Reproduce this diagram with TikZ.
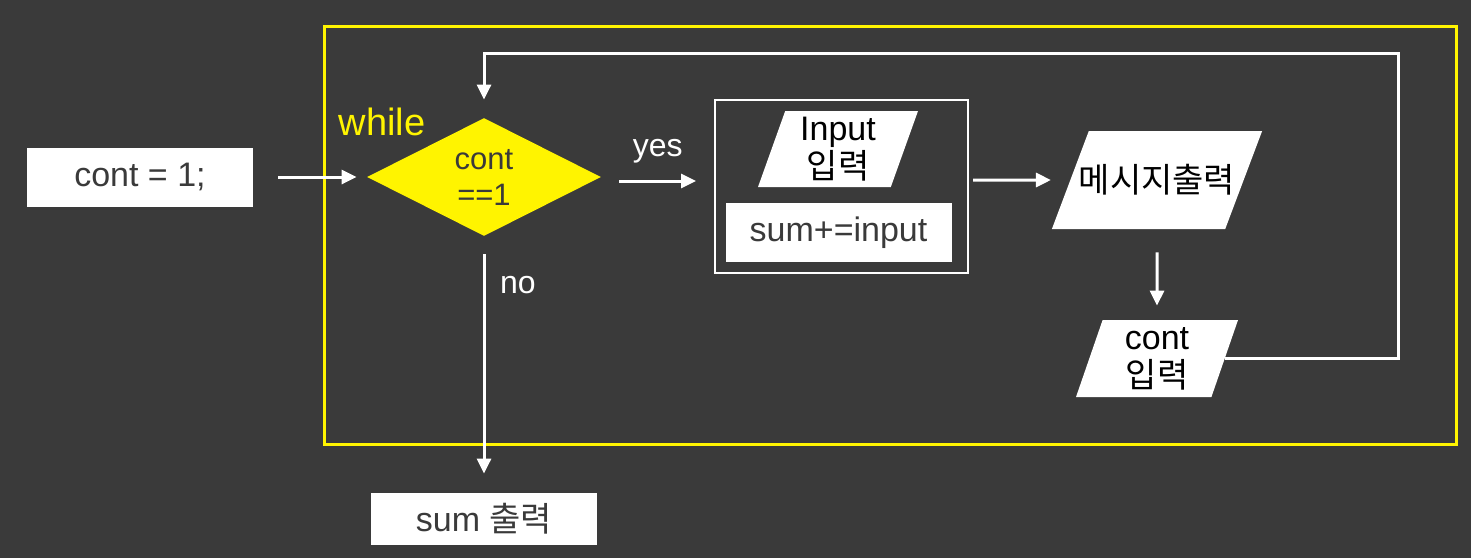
\documentclass[tikz,border=0pt]{standalone}
\usepackage{fontspec}
\setmainfont{Liberation Sans}
\newfontfamily\kr{Noto Sans CJK KR}
\usetikzlibrary{arrows.meta,shapes.geometric,positioning,calc}
\definecolor{bgdark}{RGB}{58,58,58}
\definecolor{hlyellow}{RGB}{255,244,0}

\begin{document}
\begin{tikzpicture}[x=0.5pt, y=-0.5pt,
    box/.style={fill=white, text=bgdark, minimum width=113pt, minimum height=29.5pt, inner sep=0pt, font=\fontsize{17}{19}\selectfont},
    dec/.style={diamond, fill=hlyellow, text=bgdark, aspect=2, minimum width=117pt, minimum height=59pt, inner sep=0pt, align=center, font=\fontsize{15.5}{18}\selectfont},
    io/.style={trapezium, trapezium left angle=67, trapezium right angle=113, trapezium stretches body, fill=white, text=black, inner sep=0pt, align=center, font=\fontsize{17}{19}\selectfont},
    arr/.style={-{Triangle[length=7.5pt,width=7pt]}, white, line width=1.5pt},
    lbl/.style={text=white, font=\fontsize{16}{18}\selectfont}
]
\fill[bgdark] (0,0) rectangle (1471,558);
\node[draw=hlyellow, line width=1.5pt, minimum width=566pt, minimum height=209pt, inner sep=0pt] (loop) at (890,235) {};
\node[box] (init) at (140,177) {cont = 1;};
\node[dec] (cond) at (484,177) {cont\\==1};
\node[text=hlyellow, font=\fontsize{19}{21}\selectfont] (wh) at (382,122) {while};
\node[draw=white, line width=1pt, minimum width=126.5pt, minimum height=86.5pt] (grp) at (841.5,186.5) {};
\node[io, minimum width=80pt, minimum height=38pt, yshift=-1pt] (inp) at (838,147) {Input\\{\kr 입력}};
\node[box] (acc) at (838.5,232.5) {sum+=input};
\node[io, inner ysep=14pt, inner xsep=-5pt, minimum height=49pt] (msg) at (1157,180) {\kr 메시지출력};
\node[io, minimum width=81pt, minimum height=38.5pt] (contin) at (1157,358.5) {cont\\{\kr 입력}};
\node[box, minimum height=26pt] (out) at (484,519) {sum {\kr 출력}};
\coordinate (turn) at (1398,53);

\draw[arr, shorten <=12.5pt, shorten >=5pt] (init) -- (cond);
\draw[arr, shorten <=9pt, shorten >=9pt] ($(cond.east)+(0,4)$) -- node[lbl, above=5pt] {yes} ($(cond.east -| grp.west)+(0,4)$);
\draw[arr, shorten <=2pt, shorten >=9.5pt] (grp.east |- msg) -- (msg.west);
\draw[arr, shorten <=11.5pt, shorten >=7pt] (msg) -- (contin);
\draw[arr, shorten >=9pt] (contin.east) -| (turn) -| (cond.north);
\draw[arr, shorten <=9pt, shorten >=9.5pt] (cond) -- node[lbl, pos=0.19, right=4pt] {no} (out);
\end{tikzpicture}
\end{document}
